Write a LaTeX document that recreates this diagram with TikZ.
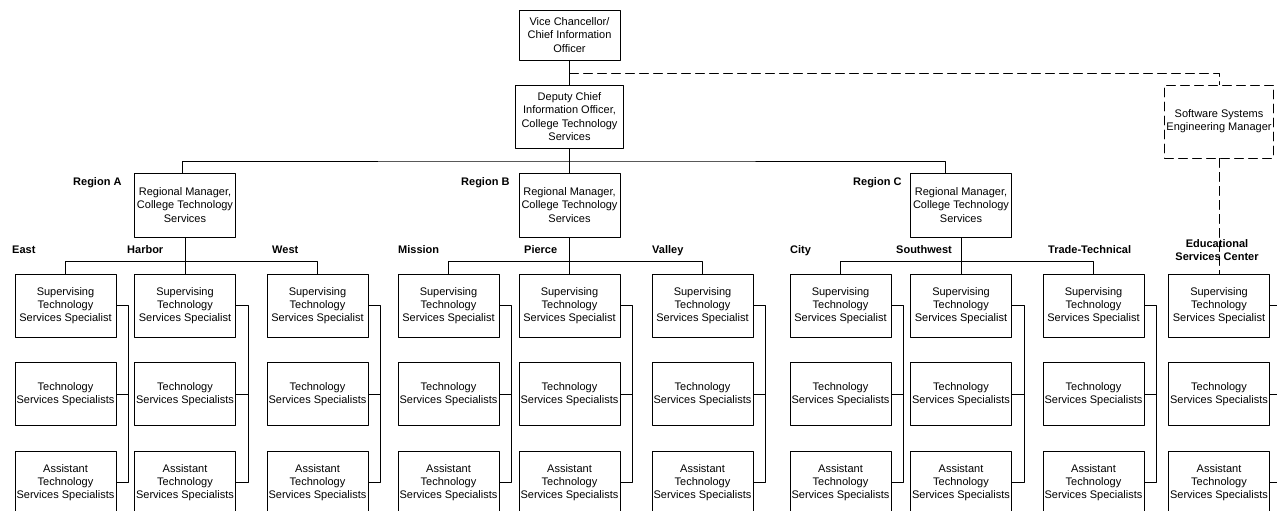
\documentclass[tikz,border=0pt]{standalone}
\usepackage{fontspec}
\setmainfont{Liberation Sans}

\tikzset{
  post/.style={draw, line width=0.8pt, align=center, inner sep=0pt,
    minimum width=101pt, minimum height=63pt, font=\fontsize{11}{13.3}\selectfont},
  vacant/.style={post, dash pattern=on 9pt off 5pt},
  site/.style={inner sep=0pt, anchor=base west, font=\fontsize{11}{13}\selectfont\bfseries},
  link/.style={line width=0.8pt},
  dlink/.style={line width=0.8pt, dash pattern=on 9pt off 5pt}
}

\begin{document}
\begin{tikzpicture}[x=1pt, y=-1pt, line join=round, line cap=round]
  \useasboundingbox (0,0) rectangle (1277,511);
  \clip (0,0) rectangle (1277,511);
  % top of the chart
  \node[post, minimum height=50pt] (vc) at (569.5,35) {Vice Chancellor/\\Chief Information\\Officer};
  \node[post, minimum width=108pt] (dcio) at (569.5,116.5) {Deputy Chief\\Information Officer,\\College Technology\\Services};
  \node[vacant, minimum width=109pt, minimum height=73pt] (ssem) at (1219,121.5) {Software Systems\\Engineering Manager};
  \foreach \r/\x in {A/185, B/569.5, C/961}
    \node[post, minimum height=64pt] (rm\r) at (\x,205) {Regional Manager,\\College Technology\\Services};
  \node[site] (labA) at (73,185) {Region A};
  \node[site] (labB) at (461,185) {Region B};
  \node[site] (labC) at (853,185) {Region C};
  % colleges
  \foreach \c/\x in {east/65.5, harbor/185, west/317.5, mission/448.5, pierce/569.5,
      valley/702.5, city/840.5, southwest/961, trade/1093.5, esc/1219} {
    \node[post] (\c-sup) at (\x,305.5) {Supervising\\Technology\\Services Specialist};
    \node[post] (\c-tss) at (\x,394) {Technology\\Services Specialists};
    \node[post] (\c-ats) at (\x,482.5) {Assistant\\Technology\\Services Specialists};
    \coordinate (\c-bus) at ([xshift=12pt]\c-sup.east);
    \draw[link] (\c-sup.east) -- (\c-bus) |- (\c-ats.east);
    \draw[link] (\c-tss.east) -- (\c-tss.east -| \c-bus);
  }
  \node[site] (labE) at (12,253) {East};
  \node[site] (labH) at (127,253) {Harbor};
  \node[site] (labW) at (272,253) {West};
  \node[site] (labM) at (398,253) {Mission};
  \node[site] (labP) at (524,253) {Pierce};
  \node[site] (labV) at (652,253) {Valley};
  \node[site] (labCi) at (790,253) {City};
  \node[site] (labS) at (896,253) {Southwest};
  \node[site] (labT) at (1048,253) {Trade-Technical};
  % connectors
  \draw[link] (vc) -- (dcio);
  \draw[link] (dcio) -- (rmB);
  \draw[link] ([xshift=-3pt]rmA.north) |- (dcio.south |- 0,161) -| ([xshift=-16pt]rmC.north);
  \foreach \r/\a/\m/\b in {A/east/harbor/west, B/mission/pierce/valley, C/city/southwest/trade} {
    \draw[link] (rm\r.south) -- (\m-sup.north);
    \draw[link] (\a-sup.north) -- ++(0,-12) -| (\b-sup.north);
  }
  \draw[dlink] (vc.south |- 0,73) -| (ssem.north);
  \draw[dlink] (ssem.south) -- (esc-sup.north);
  \node[align=center, inner sep=0pt, font=\fontsize{11}{13}\selectfont\bfseries] (escl) at (1217,250) {Educational\\Services Center};
\end{tikzpicture}
\end{document}
